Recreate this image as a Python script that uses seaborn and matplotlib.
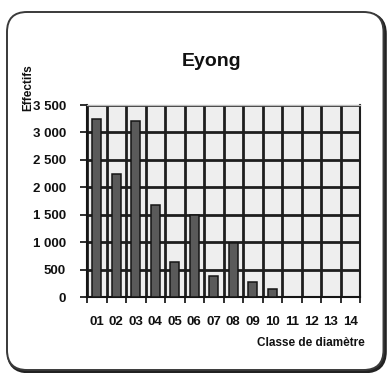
import matplotlib
matplotlib.use("Agg")
import matplotlib.pyplot as plt
from matplotlib.patches import FancyBboxPatch
from matplotlib.ticker import FuncFormatter, MultipleLocator
import numpy as np
import pandas as pd
import seaborn as sns

# Diameter classes and tree counts
classes = ["01", "02", "03", "04", "05", "06", "07", "08", "09", "10", "11", "12", "13", "14"]
effectifs = [3250, 2250, 3200, 1680, 630, 1500, 380, 980, 270, 140, 0, 0, 0, 0]

title = "Eyong"
xlabel = "Classe de diamètre"
ylabel = "Effectifs"

df = pd.DataFrame({"classe": classes, "effectif": effectifs})

sns.set_theme(style="white")
plt.rcParams["font.family"] = ["Liberation Sans", "DejaVu Sans"]
plt.rcParams["font.weight"] = "bold"

W, H = 387, 373
fig = plt.figure(figsize=(W / 100, H / 100), dpi=100)
fig.patch.set_facecolor("white")

# rounded frame around the whole chart, with a soft shadow bottom-right
shadow = FancyBboxPatch((0.085, 0.015), 3.765, 3.575,
                        boxstyle="round,pad=0,rounding_size=0.2",
                        transform=fig.dpi_scale_trans, facecolor="none",
                        edgecolor="#222222", linewidth=2.6, zorder=0)
frame = FancyBboxPatch((0.07, 0.03), 3.765, 3.58,
                       boxstyle="round,pad=0,rounding_size=0.2",
                       transform=fig.dpi_scale_trans, facecolor="white",
                       edgecolor="#3a3a3a", linewidth=1.4, zorder=1)
fig.patches.extend([shadow, frame])

left, right, top, bottom = 87, 360, 105, 297
ax = fig.add_axes([left / W, (H - bottom) / H, (right - left) / W, (bottom - top) / H])
ax.set_zorder(2)
ax.set_facecolor("#eeeeee")

sns.barplot(data=df, x="classe", y="effectif", ax=ax, width=0.45,
            color="#5a5a5a", edgecolor="#151515", linewidth=1.1, saturation=1,
            zorder=3)

ax.set_xlim(-0.5, len(classes) - 0.5)
ax.set_ylim(0, 3500)
ax.yaxis.set_major_locator(MultipleLocator(500))
ax.yaxis.set_major_formatter(FuncFormatter(lambda v, p: f"{int(v):,}".replace(",", " ")))

# gridlines: horizontal at each 500, vertical at class boundaries
ax.set_xticks(np.arange(len(classes)))
ax.set_xticklabels(classes)
ax.set_xticks(np.arange(len(classes) + 1) - 0.5, minor=True)
ax.grid(False)
ax.grid(True, axis="y", which="major", color="#1e1e1e", linewidth=2.0, zorder=1)
ax.grid(True, axis="x", which="minor", color="#1e1e1e", linewidth=2.0, zorder=1)
ax.set_axisbelow(True)

ax.tick_params(axis="x", which="major", length=0, pad=14, labelsize=9.5, colors="#111111")
ax.tick_params(axis="x", which="minor", length=4, width=1.3, color="#1e1e1e", direction="out",
               bottom=True)
ax.tick_params(axis="y", which="major", length=5, width=1.3, color="#1e1e1e", direction="out",
               left=True, pad=10, labelsize=9.5, labelcolor="#111111")
for lab in ax.get_xticklabels() + ax.get_yticklabels():
    lab.set_fontweight("bold")

for side in ["left", "bottom"]:
    ax.spines[side].set_color("#151515")
    ax.spines[side].set_linewidth(1.5)
ax.spines["top"].set_color("#bbbbbb")
ax.spines["top"].set_linewidth(1.0)
ax.spines["right"].set_color("#1e1e1e")
ax.spines["right"].set_linewidth(1.5)

ax.set_xlabel("")
ax.set_ylabel("")

fig.text(212 / W, (H - 62) / H, title, ha="center", va="center",
         fontsize=14, fontweight="bold", color="#111111", zorder=5)
fig.text(365 / W, (H - 343) / H, xlabel, ha="right", va="center",
         fontsize=8.5, fontweight="bold", color="#111111", zorder=5)
fig.text(28 / W, (H - 111) / H, ylabel, ha="center", va="bottom", rotation=90,
         fontsize=8.5, fontweight="bold", color="#111111", zorder=5)

fig.savefig("out.png", dpi=100, facecolor="white")
